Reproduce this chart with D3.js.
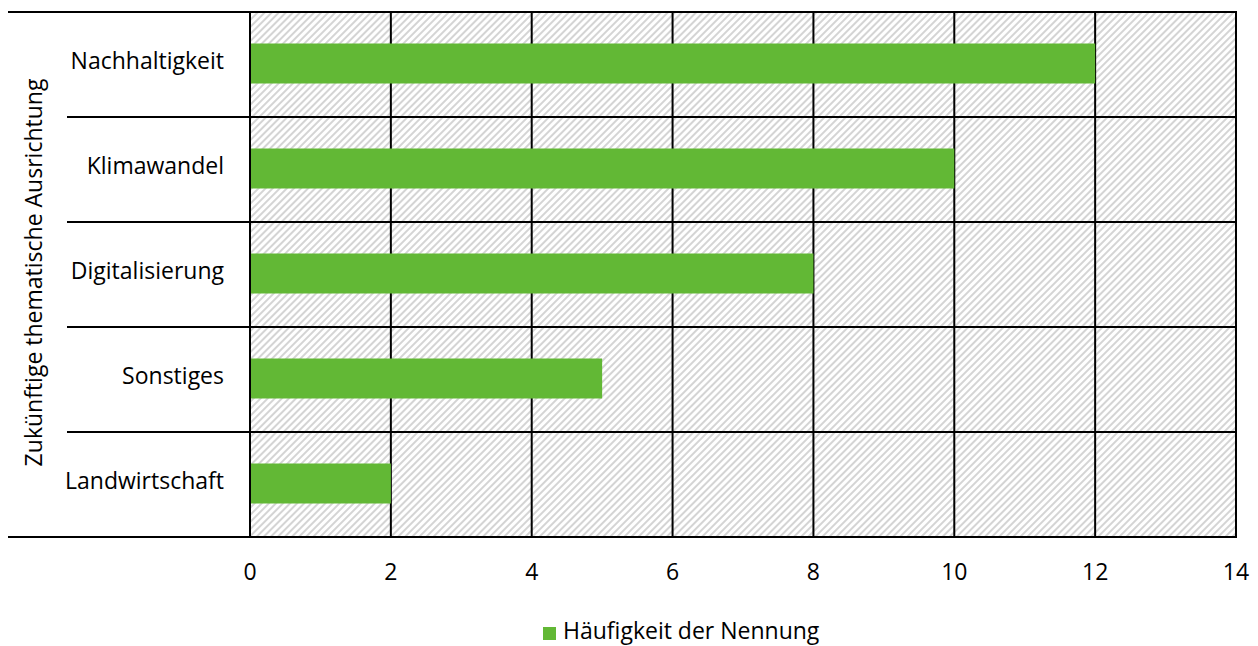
<!DOCTYPE html>
<html>
<head>
<meta charset="utf-8">
<script src="https://cdn.jsdelivr.net/npm/d3@7"></script>
<style>
  html, body { margin: 0; padding: 0; background: #fff; }
  svg { display: block; font-family: "Open Sans", Lato, sans-serif; }
</style>
</head>
<body>
<svg id="chart" width="1258" height="646"></svg>
<script>
// Nennungen je Themenbereich
const categories = ["Nachhaltigkeit", "Klimawandel", "Digitalisierung", "Sonstiges", "Landwirtschaft"];
const counts = [12, 10, 8, 5, 2];
const xTicks = [0, 2, 4, 6, 8, 10, 12, 14];
const seriesName = "Häufigkeit der Nennung";
const axisTitle = "Zukünftige thematische Ausrichtung";

const plot = { left: 250, right: 1236, top: 12, bottom: 537 };
const green = "#62b835";
const fontSize = 23;

const svg = d3.select("#chart");

const defs = svg.append("defs");
const pat = defs.append("pattern")
  .attr("id", "hatch")
  .attr("patternUnits", "userSpaceOnUse")
  .attr("width", 5).attr("height", 5)
  .attr("patternTransform", "rotate(45)");
pat.append("rect").attr("width", 5).attr("height", 5).attr("fill", "#fff");
pat.append("rect").attr("width", 2).attr("height", 5).attr("fill", "#d4d4d4");

const x = d3.scaleLinear().domain([0, 14]).range([plot.left, plot.right]);
const y = d3.scaleBand().domain(categories).range([plot.top, plot.bottom]).paddingInner(0).paddingOuter(0);

// hatched plot background
svg.append("rect")
  .attr("x", plot.left).attr("y", plot.top)
  .attr("width", plot.right - plot.left).attr("height", plot.bottom - plot.top)
  .attr("fill", "url(#hatch)");

// vertical gridlines
svg.append("g").selectAll("line").data(xTicks).join("line")
  .attr("x1", d => x(d)).attr("x2", d => x(d))
  .attr("y1", plot.top).attr("y2", plot.bottom)
  .attr("stroke", "#000").attr("stroke-width", 2);

// horizontal category separators (extend left into the label area)
const seps = categories.map(c => y(c)).concat([plot.bottom]);
svg.append("g").selectAll("line").data(seps).join("line")
  .attr("x1", (d, i) => (i === 0 || i === seps.length - 1) ? 8 : 67)
  .attr("x2", plot.right + 1)
  .attr("y1", d => d).attr("y2", d => d)
  .attr("stroke", "#000").attr("stroke-width", 2);

// bars
const barH = 40;
svg.append("g").selectAll("rect").data(categories).join("rect")
  .attr("x", x(0) + 1)
  .attr("y", c => y(c) + y.bandwidth() / 2 - barH / 2 - 1)
  .attr("width", (c, i) => x(counts[i]) - x(0) - 1)
  .attr("height", barH)
  .attr("fill", green);

// category labels
svg.append("g").selectAll("text").data(categories).join("text")
  .attr("x", 224)
  .attr("y", c => y(c) + y.bandwidth() / 2 - 2)
  .attr("text-anchor", "end")
  .attr("dominant-baseline", "middle")
  .attr("font-size", fontSize)
  .attr("fill", "#000")
  .text(c => c);

// x tick labels
svg.append("g").selectAll("text").data(xTicks).join("text")
  .attr("x", d => x(d))
  .attr("y", 574)
  .attr("text-anchor", "middle")
  .attr("dominant-baseline", "middle")
  .attr("font-size", fontSize)
  .attr("fill", "#000")
  .text(d => d);

// y axis title
svg.append("text")
  .attr("transform", `translate(36, ${(plot.top + plot.bottom) / 2 - 2}) rotate(-90)`)
  .attr("text-anchor", "middle")
  .attr("dominant-baseline", "middle")
  .attr("font-size", fontSize)
  .attr("fill", "#000")
  .text(axisTitle);

// legend
const lg = svg.append("g").attr("transform", "translate(543, 633)");
lg.append("rect").attr("x", 0).attr("y", -6).attr("width", 13).attr("height", 13).attr("fill", green);
lg.append("text").attr("x", 20).attr("y", 0)
  .attr("dominant-baseline", "middle")
  .attr("font-size", fontSize).attr("fill", "#000")
  .text(seriesName);
</script>
</body>
</html>
